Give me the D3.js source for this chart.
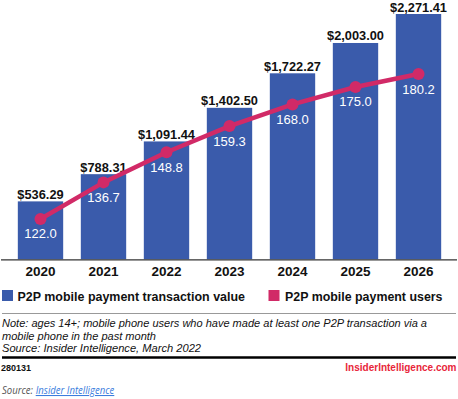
<!DOCTYPE html>
<html><head><meta charset="utf-8">
<script src="https://cdn.jsdelivr.net/npm/d3@7"></script>
<style>
html,body{margin:0;padding:0;background:#fff;}
svg{display:block;}
</style></head>
<body>
<svg id="chart" width="458" height="399"></svg>
<script>
const years = ["2020","2021","2022","2023","2024","2025","2026"];
const txValues = [536.29, 788.31, 1091.44, 1402.50, 1722.27, 2003.00, 2271.41];
const txLabels = ["$536.29","$788.31","$1,091.44","$1,402.50","$1,722.27","$2,003.00","$2,271.41"];
const users = [122.0, 136.7, 148.8, 159.3, 168.0, 175.0, 180.2];
const userLabels = ["122.0","136.7","148.8","159.3","168.0","175.0","180.2"];
const legendLabels = ["P2P mobile payment transaction value","P2P mobile payment users"];
const noteLines = ["Note: ages 14+; mobile phone users who have made at least one P2P transaction via a","mobile phone in the past month","Source: Insider Intelligence, March 2022"];

const BLUE = "#3a5bab", PINK = "#d12a67";
const svg = d3.select("#chart");
const FONT = "'Liberation Sans', Arial, sans-serif";

const x = d3.scaleBand().domain(years).range([9, 450]).paddingInner(0.28).paddingOuter(0.14);
const y = d3.scaleLinear().domain([0, 2271.41]).range([259.3, 14]);
const y2 = d3.scaleLinear().domain([100, 200]).range([273.8, 24.7]);

// bars
svg.append("g").selectAll("rect").data(years).join("rect")
  .attr("x", d => x(d)).attr("width", x.bandwidth())
  .attr("y", (d,i) => y(txValues[i])).attr("height", (d,i) => y(0) - y(txValues[i]))
  .attr("fill", BLUE);

// bar labels
svg.append("g").selectAll("text").data(years).join("text")
  .attr("x", d => x(d) + x.bandwidth()/2)
  .attr("y", (d,i) => y(txValues[i]) - 2.5)
  .attr("text-anchor","middle")
  .attr("font-family", FONT).attr("font-weight","bold").attr("font-size", 12.8)
  .attr("fill","#111")
  .text((d,i) => txLabels[i]);

// axis
const xAxis = d3.axisBottom(x).tickSize(0).tickPadding(7);
const ax = svg.append("g").attr("transform", `translate(0,${y(0)})`).call(xAxis);
ax.select(".domain").attr("d", "M1,0.5H457").attr("stroke","#333").attr("stroke-width",1.3);
ax.selectAll("text").attr("font-family", FONT).attr("font-weight","bold").attr("font-size", 13.5).attr("fill","#111").attr("dy","0.71em");

// line
const line = d3.line().x((d,i) => x(years[i]) + x.bandwidth()/2).y(d => y2(d));
svg.append("path").datum(users).attr("d", line)
  .attr("fill","none").attr("stroke", PINK).attr("stroke-width", 4.5);
svg.append("g").selectAll("circle").data(users).join("circle")
  .attr("cx", (d,i) => x(years[i]) + x.bandwidth()/2).attr("cy", d => y2(d)).attr("r", 6)
  .attr("fill", PINK);
svg.append("g").selectAll("text").data(users).join("text")
  .attr("x", (d,i) => x(years[i]) + x.bandwidth()/2)
  .attr("y", d => y2(d) + 19.5)
  .attr("text-anchor","middle")
  .attr("font-family", FONT).attr("font-size", 13).attr("fill","#fff")
  .text((d,i) => userLabels[i]);

// legend
const lg = svg.append("g");
lg.append("rect").attr("x",2).attr("y",290).attr("width",11).attr("height",11).attr("fill",BLUE);
lg.append("text").attr("x",17.5).attr("y",300.5).attr("font-family",FONT).attr("font-weight","bold").attr("font-size",13)
  .attr("textLength",227.5).attr("lengthAdjust","spacingAndGlyphs").attr("fill","#111").text(legendLabels[0]);
lg.append("rect").attr("x",268.5).attr("y",290).attr("width",11).attr("height",11).attr("fill",PINK);
lg.append("text").attr("x",285).attr("y",300.5).attr("font-family",FONT).attr("font-weight","bold").attr("font-size",13)
  .attr("textLength",157.5).attr("lengthAdjust","spacingAndGlyphs").attr("fill","#111").text(legendLabels[1]);

// separator
svg.append("line").attr("x1",2).attr("x2",456).attr("y1",313.5).attr("y2",313.5).attr("stroke","#999").attr("stroke-width",1);

// notes
const noteLens = [425, 154, 199];
svg.append("g").selectAll("text").data(noteLines).join("text")
  .attr("x",2).attr("y",(d,i)=>327 + i*12.5)
  .attr("font-family",FONT).attr("font-style","italic").attr("font-size",11.5)
  .attr("textLength",(d,i)=>noteLens[i]).attr("lengthAdjust","spacingAndGlyphs").attr("fill","#111")
  .text(d=>d);

svg.append("line").attr("x1",2).attr("x2",456).attr("y1",357.5).attr("y2",357.5).attr("stroke","#000").attr("stroke-width",2.5);

svg.append("text").attr("x",1).attr("y",371).attr("font-family",FONT).attr("font-weight","bold").attr("font-size",9).attr("fill","#111").text("280131");
svg.append("text").attr("x",456.5).attr("y",371).attr("text-anchor","end").attr("font-family",FONT).attr("font-weight","bold").attr("font-size",10).attr("fill","#e8253a").text("InsiderIntelligence.com");

svg.append("text").attr("x",2).attr("y",394).attr("font-family","'Open Sans', sans-serif").attr("font-style","italic").attr("font-size",10.5)
  .attr("textLength",31).attr("lengthAdjust","spacingAndGlyphs").attr("fill","#555").text("Source:");
svg.append("text").attr("x",35.7).attr("y",394).attr("font-family","'Open Sans', sans-serif").attr("font-style","italic").attr("font-size",10.5)
  .attr("textLength",78.6).attr("lengthAdjust","spacingAndGlyphs").attr("fill","#3b7ddd").attr("text-decoration","underline").text("Insider Intelligence");
</script>
</body></html>
